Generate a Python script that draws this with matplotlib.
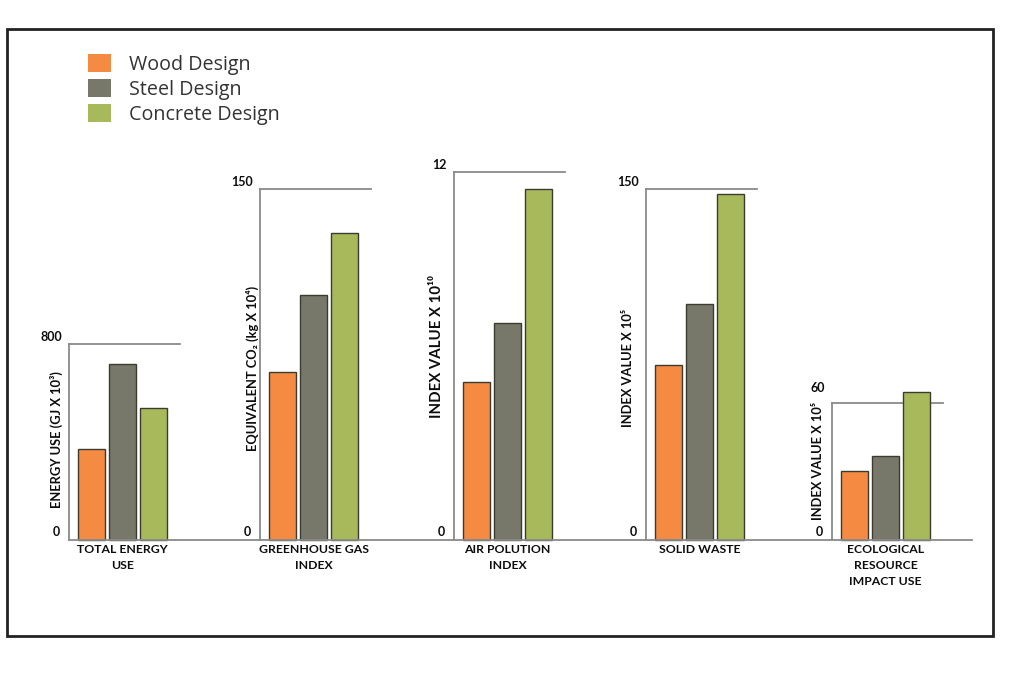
import matplotlib
matplotlib.use("Agg")
import matplotlib.pyplot as plt
from matplotlib.patches import Rectangle
from matplotlib.lines import Line2D

# ---- data ----
series = ["Wood Design", "Steel Design", "Concrete Design"]
colors = ["#F58B42", "#77776A", "#A8B95C"]
categories = ["TOTAL ENERGY\nUSE", "GREENHOUSE GAS\nINDEX", "AIR POLUTION\nINDEX",
              "SOLID WASTE", "ECOLOGICAL\nRESOURCE\nIMPACT USE"]
ylabels = ["ENERGY USE (GJ X 10\u00b3)", "EQUIVALENT CO\u2082 (kg X 10\u2074)",
           "INDEX VALUE X 10\u00b9\u2070", "INDEX VALUE X 10\u2075", "INDEX VALUE X 10\u2075"]
ymax = [800, 150, 12, 150, 60]
wood = [371, 71.6, 5.15, 74.8, 30.2]
steel = [718, 104.6, 7.08, 100.9, 36.8]
concrete = [539, 131, 11.45, 147.9, 64.8]

# ---- layout (pixels) ----
W, H = 1024, 673
fig = plt.figure(figsize=(W / 100, H / 100), dpi=100)
fig.patch.set_facecolor("white")

def fx(px):
    return px / W

def fy(py):
    return 1 - py / H

base_y = 540
panel_left = [69, 260, 454, 646, 832]
panel_top = [344, 189, 172, 189, 403]
panel_w = 111
ylabel_dx = [13, 8, 17, 18, 14]
ylabel_dy = [2, -4, 9, -3, 11]
ylabel_fs = [9.3, 9.3, 10.8, 9.3, 9.3]
maxlab_dy = [7, 7, 7, 7, 15]

axis_col = "#8a8a8a"
font_lbl = ["Lato", "DejaVu Sans"]
font_leg = ["Open Sans", "DejaVu Sans"]
edge = "#3b3b2f"
txt_col = "#0d0d0d"

vals = list(zip(wood, steel, concrete))
for i in range(5):
    ax = fig.add_axes([fx(panel_left[i]), fy(base_y), fx(panel_w),
                       (base_y - panel_top[i]) / H])
    ax.set_facecolor("none")
    for j, v in enumerate(vals[i]):
        ax.bar(j, v, width=0.87, color=colors[j], edgecolor=edge, linewidth=1.0,
               clip_on=False, zorder=3)
    ax.set_xlim(-0.73, 2.85)
    ax.set_ylim(0, ymax[i])
    for s in ["right", "bottom"]:
        ax.spines[s].set_visible(False)
    for s in ["left", "top"]:
        ax.spines[s].set_color(axis_col)
        ax.spines[s].set_linewidth(1.3)
    ax.set_xticks([])
    ax.set_yticks([])
    # tick labels (0 and max)
    ax.annotate(f"{ymax[i]}", xy=(0, ymax[i]), xycoords=("axes fraction", "data"),
                xytext=(-7, maxlab_dy[i]), textcoords="offset pixels",
                ha="right", va="center", fontsize=9, fontweight="bold",
                family=font_lbl, color=txt_col)
    ax.annotate("0", xy=(0, 0), xycoords=("axes fraction", "data"),
                xytext=(-9, 8), textcoords="offset pixels",
                ha="right", va="center", fontsize=9, fontweight="bold",
                family=font_lbl, color=txt_col)
    # y label
    ax.annotate(ylabels[i], xy=(0, 0.5), xycoords="axes fraction",
                xytext=(-ylabel_dx[i], ylabel_dy[i]), textcoords="offset pixels",
                ha="center", va="center", rotation=90, fontsize=ylabel_fs[i],
                fontweight="bold", family=font_lbl, color=txt_col)
    # category label
    ax.annotate(categories[i], xy=(1, 0), xycoords=("data", "axes fraction"),
                xytext=(0, -4), textcoords="offset pixels",
                ha="center", va="top", fontsize=8.8, fontweight="bold",
                family=font_lbl, color=txt_col, linespacing=1.55)

# shared baseline
fig.add_artist(Line2D([fx(69), fx(972)], [fy(base_y), fy(base_y)],
                      color=axis_col, linewidth=1.3))

# outer border
fig.add_artist(Rectangle((fx(7), fy(636)), fx(986), (636 - 29) / H, fill=False,
                         edgecolor="#222222", linewidth=2.0))

# legend
for k, name in enumerate(series):
    cy = 63 + 25 * k
    fig.add_artist(Rectangle((fx(88), fy(cy + 9)), fx(23), 18 / H,
                             facecolor=colors[k], edgecolor="none"))
    fig.text(fx(129), fy(cy + 2), name, ha="left", va="center", fontsize=14.2,
             family=font_leg, color="#333333")

fig.savefig("out.png", dpi=100)
